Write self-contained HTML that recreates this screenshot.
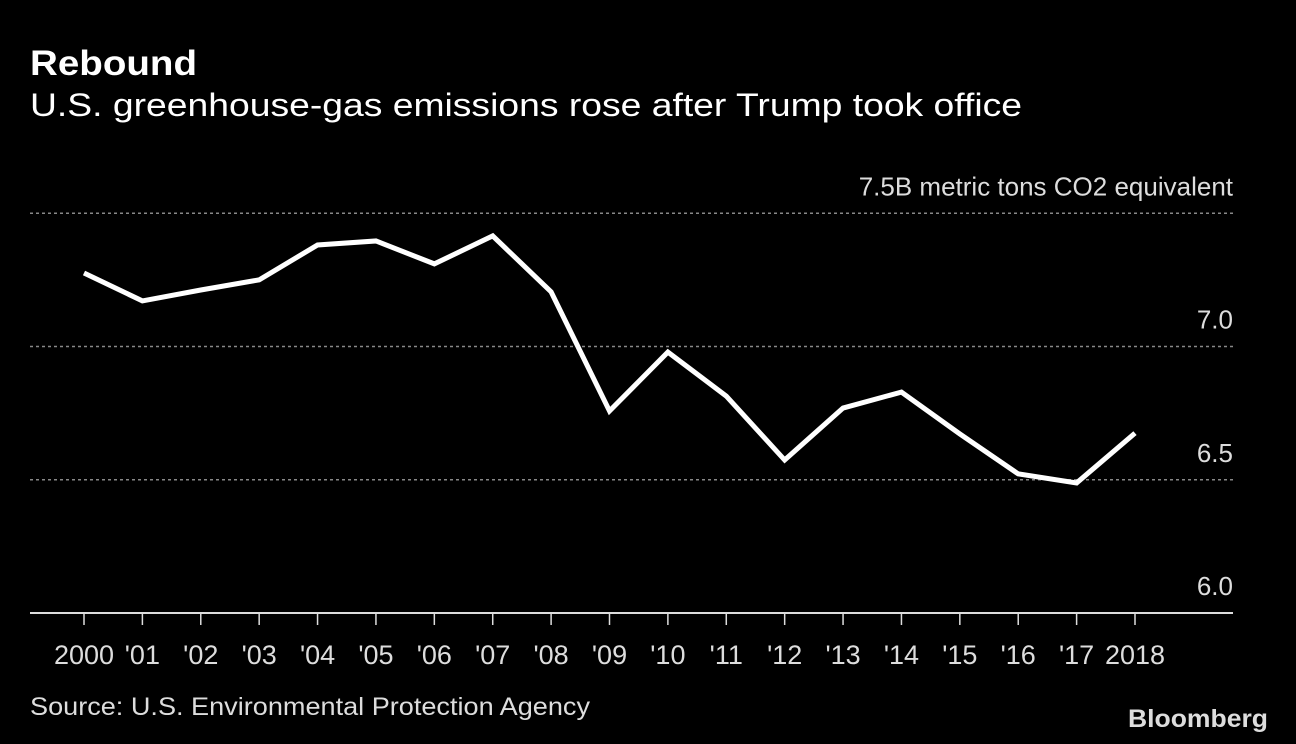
<!DOCTYPE html>
<html><head><meta charset="utf-8"><style>
html,body{margin:0;padding:0;background:#000;}
svg{display:block;font-family:"Liberation Sans",sans-serif;}
</style></head><body>
<svg width="1296" height="744" viewBox="0 0 1296 744">
<rect width="1296" height="744" fill="#000"/>
<text x="30" y="75" font-size="35" font-weight="bold" fill="#fff" textLength="167" lengthAdjust="spacingAndGlyphs">Rebound</text>
<text x="30" y="116" font-size="32" fill="#fff" textLength="992" lengthAdjust="spacingAndGlyphs">U.S. greenhouse-gas emissions rose after Trump took office</text>
<g id="grid"></g>
<g id="xaxis"></g>
<g id="series"></g>
<text x="30" y="715" font-size="25" fill="#ddd" textLength="560" lengthAdjust="spacingAndGlyphs">Source: U.S. Environmental Protection Agency</text>
<text x="1268" y="727" font-size="25" font-weight="bold" fill="#ddd" text-anchor="end" textLength="140" lengthAdjust="spacingAndGlyphs">Bloomberg</text>
</svg>
<script>
const years = [2000,2001,2002,2003,2004,2005,2006,2007,2008,2009,2010,2011,2012,2013,2014,2015,2016,2017,2018];
const xLabels = ["2000","'01","'02","'03","'04","'05","'06","'07","'08","'09","'10","'11","'12","'13","'14","'15","'16","'17","2018"];
const emissions = [7.276,7.171,7.212,7.25,7.381,7.396,7.31,7.415,7.205,6.758,6.979,6.814,6.574,6.769,6.829,6.672,6.522,6.488,6.675];
const yTicks = [6.0,6.5,7.0,7.5];
const yTickLabels = ["6.0","6.5","7.0","7.5B metric tons CO2 equivalent"];
const NS="http://www.w3.org/2000/svg";
const xScale = y => 84 + (y-2000)*(1135-84)/18;
const yScale = v => 613 - (v-6)*266.5;
function mk(tag, attrs, parent){const e=document.createElementNS(NS,tag);for(const k in attrs)e.setAttribute(k,attrs[k]);parent.appendChild(e);return e;}
const grid=document.getElementById('grid'), xa=document.getElementById('xaxis'), se=document.getElementById('series');
yTicks.forEach((t,i)=>{
  const y=yScale(t);
  const l=mk('line',{x1:30,x2:1233,y1:y,y2:y,stroke:i===0?'#ddd':'#888','stroke-width':i===0?2:1.5,'stroke-dasharray':i===0?'none':'3,3'},grid);
  
  
  const tx=mk('text',{x:1233,y:y-18,'font-size':26,fill:'#ddd','text-anchor':'end'},grid);
  tx.textContent=yTickLabels[i];
  
  
});
years.forEach((yr,i)=>{
  const x=xScale(yr);
  const tk=mk('line',{x1:x,x2:x,y1:614,y2:625,stroke:'#ddd','stroke-width':1.5},xa);
  
  
  const tx=mk('text',{x:x,y:664,'font-size':27,fill:'#ddd','text-anchor':'middle'},xa);
  tx.textContent=xLabels[i];
  
  
});
const pts=years.map((yr,i)=>xScale(yr)+','+yScale(emissions[i])).join(' ');
const pl=mk('polyline',{points:pts,fill:'none',stroke:'#fff','stroke-width':5,'stroke-linejoin':'miter'},se);


</script>
</body></html>
